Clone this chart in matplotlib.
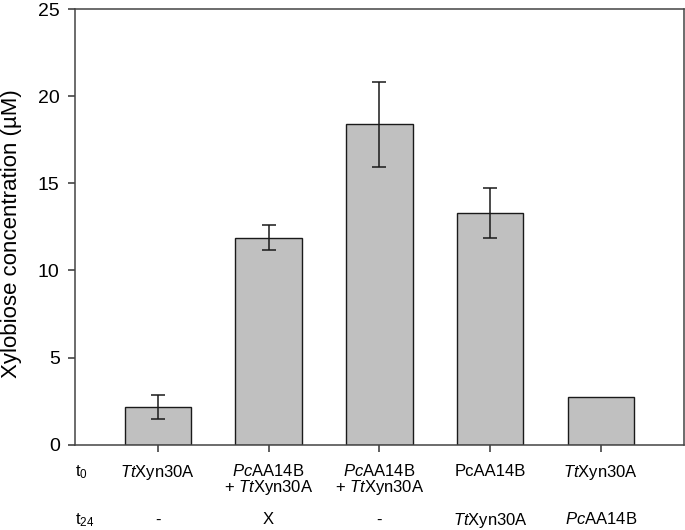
import matplotlib
matplotlib.use("Agg")
import matplotlib.pyplot as plt
import numpy as np

plt.rcParams['font.family'] = ['Liberation Sans', 'DejaVu Sans']
plt.rcParams['mathtext.fontset'] = 'custom'
plt.rcParams['mathtext.rm'] = 'Liberation Sans'
plt.rcParams['mathtext.it'] = 'Liberation Sans:italic'

# Data
t0_labels = [r"$\it{Tt}$Xyn30A",
             r"$\it{Pc}$AA14B" + "\n" + r"+ $\it{Tt}$Xyn30A",
             r"$\it{Pc}$AA14B" + "\n" + r"+ $\it{Tt}$Xyn30A",
             "PcAA14B",
             r"$\it{Tt}$Xyn30A"]
t24_labels = ["-", "X", "-", r"$\it{Tt}$Xyn30A", r"$\it{Pc}$AA14B"]
means = [2.16, 11.88, 18.38, 13.29, 2.72]
errors = [0.71, 0.72, 2.42, 1.45, None]
yticks = [0, 5, 10, 15, 20, 25]

W, H = 685, 530
fig = plt.figure(figsize=(W / 100, H / 100), dpi=100)
left, right, bottom, top = 74.7, 684, 444.7, 9
ax = fig.add_axes([left / W, 1 - bottom / H, (right - left) / W, (bottom - top) / H])

x = np.arange(len(means))
ax.bar(x, means, width=0.6, color='#c0c0c0', edgecolor='#1a1a1a', linewidth=1.0, zorder=2)
for xi, m, e in zip(x, means, errors):
    if e is not None:
        ax.errorbar(xi, m, yerr=e, fmt='none', ecolor='#1a1a1a', elinewidth=1.1,
                    capsize=4.8, capthick=1.1, zorder=3)

ax.set_xlim(-0.752, 4.752)
ax.set_ylim(0, 25)
ax.set_yticks(yticks)
ax.set_yticklabels([str(v) for v in yticks], fontsize=14)
ax.set_xticks(x)
ax.set_xticklabels([])
ax.tick_params(axis='both', direction='out', length=5, width=1.1, color='#333333', pad=5.8)
for s in ax.spines.values():
    s.set_color('#444444')
    s.set_linewidth(1.1)

fig.text(1 / W, 1 - 234 / H, "Xylobiose concentration (µM)", rotation=90,
         ha='left', va='center', fontsize=16)

def fy(p):
    return 1 - p / H

for xi, lab in zip(x, t0_labels):
    xf = ax.transData.transform((xi, 0))[0] / W
    for k, line in enumerate(lab.split("\n")):
        fig.text(xf, fy(476.5 + 15.5 * k), line, ha='center', va='baseline', fontsize=12)
for xi, lab in zip(x, t24_labels):
    xf = ax.transData.transform((xi, 0))[0] / W
    fig.text(xf, fy(524.5), lab, ha='center', va='baseline', fontsize=12)

fig.text(75 / W, fy(476.5), r"t$_{0}$", ha='left', va='baseline', fontsize=12)
fig.text(75 / W, fy(524), r"t$_{24}$", ha='left', va='baseline', fontsize=12)

fig.savefig("out.png", dpi=100)
